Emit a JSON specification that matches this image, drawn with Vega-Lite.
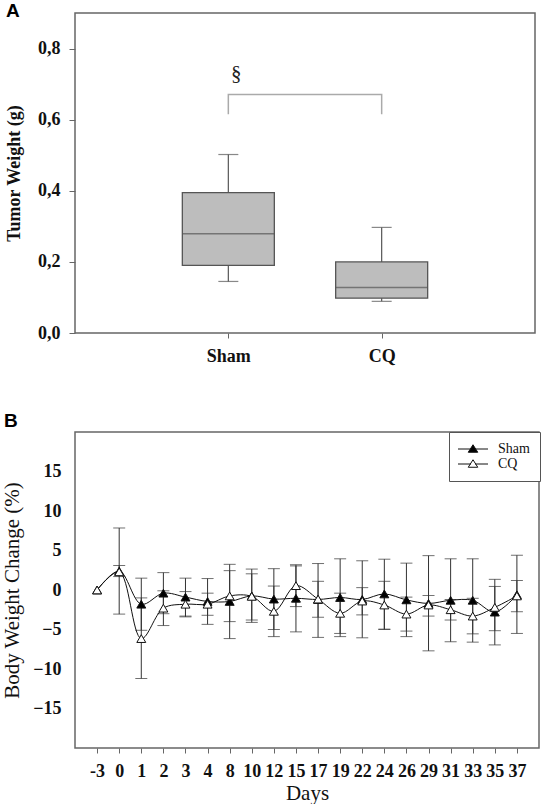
{
  "$schema": "https://vega.github.io/schema/vega-lite/v6.json",
  "background": "white",
  "padding": {"left": 0, "top": 1, "right": 0, "bottom": 0},
  "spacing": 44,
  "resolve": {"scale": {"fill": "independent"}, "legend": {"fill": "independent"}},
  "config": {
    "font": "Liberation Serif",
    "view": {"stroke": "#666", "strokeWidth": 1.5},
    "axis": {"labelFont": "Liberation Serif", "labelFontSize": 18, "labelFontWeight": "bold", "labelColor": "#111", "titleFont": "Liberation Serif", "titleColor": "#111", "domain": false, "grid": false, "tickColor": "#666", "labelOverlap": false, "labelBound": false},
    "title": {"font": "Liberation Sans", "fontSize": 19, "fontWeight": "bold", "color": "#000", "anchor": "start", "frame": "group", "baseline": "top"}
  },
  "vconcat": [
    {
      "width": 460,
      "height": 320,
      "title": {"text": "A", "dx": -69, "offset": -8},
      "data": {"values": [
        {"group": "Sham", "lower": 0.145, "q1": 0.19, "median": 0.279, "q3": 0.395, "upper": 0.502},
        {"group": "CQ", "lower": 0.089, "q1": 0.098, "median": 0.128, "q3": 0.2, "upper": 0.297}
      ]},
      "encoding": {
        "x": {"field": "group", "type": "nominal", "sort": ["Sham", "CQ"], "scale": {"type": "point", "padding": 1},
          "axis": {"title": null, "labelAngle": 0, "tickSize": 5, "labelPadding": 9}}
      },
      "layer": [
        {"mark": {"type": "rule", "color": "#555", "strokeWidth": 1.2},
         "encoding": {"y": {"field": "lower", "type": "quantitative", "scale": {"domain": [0, 0.9]},
             "axis": {"title": "Tumor Weight (g)", "titleFontSize": 18, "titleFontWeight": "bold", "titlePadding": 14, "values": [0, 0.2, 0.4, 0.6, 0.8], "labelExpr": "replace(format(datum.value, '.1f'), '.', ',')", "tickSize": 6, "labelPadding": 9}},
           "y2": {"field": "upper"}}},
        {"mark": {"type": "tick", "color": "#555", "size": 20, "thickness": 1.2},
         "encoding": {"y": {"field": "lower", "type": "quantitative"}}},
        {"mark": {"type": "tick", "color": "#555", "size": 20, "thickness": 1.2},
         "encoding": {"y": {"field": "upper", "type": "quantitative"}}},
        {"mark": {"type": "bar", "size": 92, "fill": "#bdbdbd", "stroke": "#555", "strokeWidth": 1.3},
         "encoding": {"y": {"field": "q1", "type": "quantitative"}, "y2": {"field": "q3"}}},
        {"mark": {"type": "tick", "color": "#555", "size": 92, "thickness": 1.5},
         "encoding": {"y": {"field": "median", "type": "quantitative"}}},
        {"data": {"values": [
            {"group": "Sham", "by": 0.615, "o": 1},
            {"group": "Sham", "by": 0.671, "o": 2},
            {"group": "CQ", "by": 0.671, "o": 3},
            {"group": "CQ", "by": 0.615, "o": 4}
          ]},
         "mark": {"type": "line", "color": "#aaa", "strokeWidth": 1.5},
         "encoding": {"y": {"field": "by", "type": "quantitative"}, "order": {"field": "o", "type": "quantitative"}}},
        {"data": {"values": [{"group": "Sham", "ty": 0.728, "label": "§"}]},
         "mark": {"type": "text", "dx": 8, "fontSize": 21, "font": "Liberation Serif", "color": "#222"},
         "encoding": {"y": {"field": "ty", "type": "quantitative"}, "text": {"field": "label"}}}
      ]
    },
    {
      "width": 464,
      "height": 316,
      "title": {"text": "B", "dx": -71, "offset": 1},
      "data": {"values": [
        {"day": "-3", "group": "Sham", "mean": 0, "lo": null, "hi": null},
        {"day": "0", "group": "Sham", "mean": 2.4, "lo": 1.7, "hi": 3.1},
        {"day": "1", "group": "Sham", "mean": -1.8, "lo": -5.1, "hi": 1.5},
        {"day": "2", "group": "Sham", "mean": -0.4, "lo": -3.0, "hi": 2.2},
        {"day": "3", "group": "Sham", "mean": -0.9, "lo": -3.3, "hi": 1.5},
        {"day": "4", "group": "Sham", "mean": -1.45, "lo": -4.35, "hi": 1.45},
        {"day": "8", "group": "Sham", "mean": -1.45, "lo": -6.15, "hi": 3.25},
        {"day": "10", "group": "Sham", "mean": -0.75, "lo": -4.1, "hi": 2.65},
        {"day": "12", "group": "Sham", "mean": -1.15, "lo": -5.0, "hi": 2.7},
        {"day": "15", "group": "Sham", "mean": -1.05, "lo": -5.3, "hi": 3.2},
        {"day": "17", "group": "Sham", "mean": -1.2, "lo": -6.0, "hi": 3.35},
        {"day": "19", "group": "Sham", "mean": -0.95, "lo": -5.9, "hi": 3.95},
        {"day": "22", "group": "Sham", "mean": -1.2, "lo": -6.05, "hi": 3.7},
        {"day": "24", "group": "Sham", "mean": -0.5, "lo": -4.95, "hi": 3.9},
        {"day": "26", "group": "Sham", "mean": -1.25, "lo": -5.9, "hi": 3.4},
        {"day": "29", "group": "Sham", "mean": -1.7, "lo": -7.7, "hi": 4.35},
        {"day": "31", "group": "Sham", "mean": -1.3, "lo": -6.55, "hi": 3.95},
        {"day": "33", "group": "Sham", "mean": -1.3, "lo": -6.6, "hi": 3.95},
        {"day": "35", "group": "Sham", "mean": -2.8, "lo": -6.95, "hi": 1.35},
        {"day": "37", "group": "Sham", "mean": -0.6, "lo": -5.5, "hi": 4.4},
        {"day": "-3", "group": "CQ", "mean": 0, "lo": null, "hi": null},
        {"day": "0", "group": "CQ", "mean": 2.3, "lo": -3.05, "hi": 7.85},
        {"day": "1", "group": "CQ", "mean": -6.15, "lo": -11.2, "hi": -1.0},
        {"day": "2", "group": "CQ", "mean": -2.3, "lo": -4.5, "hi": -0.1},
        {"day": "3", "group": "CQ", "mean": -1.8, "lo": -3.4, "hi": -0.2},
        {"day": "4", "group": "CQ", "mean": -1.8, "lo": -3.2, "hi": -0.4},
        {"day": "8", "group": "CQ", "mean": -0.75, "lo": -4.0, "hi": 2.45},
        {"day": "10", "group": "CQ", "mean": -0.8, "lo": -3.8, "hi": 2.05},
        {"day": "12", "group": "CQ", "mean": -2.7, "lo": -5.9, "hi": 0.5},
        {"day": "15", "group": "CQ", "mean": 0.55, "lo": -2.1, "hi": 3.05},
        {"day": "17", "group": "CQ", "mean": -1.15, "lo": -3.45, "hi": 1.1},
        {"day": "19", "group": "CQ", "mean": -2.95, "lo": -5.5, "hi": -0.4},
        {"day": "22", "group": "CQ", "mean": -1.4, "lo": -3.15, "hi": 0.3},
        {"day": "24", "group": "CQ", "mean": -1.9, "lo": -5.0, "hi": 1.1},
        {"day": "26", "group": "CQ", "mean": -3.05, "lo": -5.2, "hi": -0.9},
        {"day": "29", "group": "CQ", "mean": -1.9, "lo": -3.3, "hi": -0.7},
        {"day": "31", "group": "CQ", "mean": -2.5, "lo": -3.8, "hi": -1.2},
        {"day": "33", "group": "CQ", "mean": -3.3, "lo": -5.55, "hi": -1.05},
        {"day": "35", "group": "CQ", "mean": -2.2, "lo": -5.15, "hi": 0.45},
        {"day": "37", "group": "CQ", "mean": -0.75, "lo": -2.75, "hi": 1.2}
      ]},
      "encoding": {
        "x": {"field": "day", "type": "ordinal", "sort": ["-3","0","1","2","3","4","8","10","12","15","17","19","22","24","26","29","31","33","35","37"],
          "scale": {"type": "point", "padding": 1},
          "axis": {"title": "Days", "titleFontSize": 21, "titleFontWeight": "normal", "titlePadding": 2, "labelAngle": 0, "tickSize": 5, "labelPadding": 9}}
      },
      "layer": [
        {"mark": {"type": "rule", "color": "#333", "strokeWidth": 1},
         "encoding": {"y": {"field": "lo", "type": "quantitative", "scale": {"domain": [-18, 18]},
             "axis": {"title": "Body Weight Change (%)", "titleFontSize": 21, "titleFontWeight": "normal", "titlePadding": 10, "values": [-15, -10, -5, 0, 5, 10, 15], "tickSize": 0, "labelPadding": 14}},
           "y2": {"field": "hi"}}},
        {"mark": {"type": "tick", "color": "#333", "size": 12, "thickness": 1},
         "encoding": {"y": {"field": "lo", "type": "quantitative"}}},
        {"mark": {"type": "tick", "color": "#333", "size": 12, "thickness": 1},
         "encoding": {"y": {"field": "hi", "type": "quantitative"}}},
        {"mark": {"type": "line", "interpolate": "catmull-rom", "color": "#111", "strokeWidth": 1},
         "encoding": {"y": {"field": "mean", "type": "quantitative"}, "detail": {"field": "group"}}},
        {"mark": {"type": "point", "shape": "triangle-up", "size": 80, "filled": true, "stroke": "#111", "strokeWidth": 1, "opacity": 1},
         "encoding": {
           "y": {"field": "mean", "type": "quantitative"},
           "fill": {"field": "group", "type": "nominal", "scale": {"domain": ["Sham", "CQ"], "range": ["#000", "#fff"]},
             "legend": {"title": null, "orient": "none", "legendX": 374, "legendY": 0, "strokeColor": "#555", "fillColor": "#fff", "padding": 10,
               "symbolType": "M -3 0 H -0.4 M 0.4 0 H 3 M 0 -0.85 L 0.95 0.65 L -0.95 0.65 Z",
               "symbolSize": 100, "symbolOffset": 7, "symbolStrokeColor": "#111", "symbolStrokeWidth": 1, "symbolOpacity": 1,
               "labelFont": "Liberation Serif", "labelFontSize": 14, "labelFontWeight": "normal", "labelColor": "#111", "labelOffset": 18, "rowPadding": 1}}
         }}
      ]
    }
  ]
}
